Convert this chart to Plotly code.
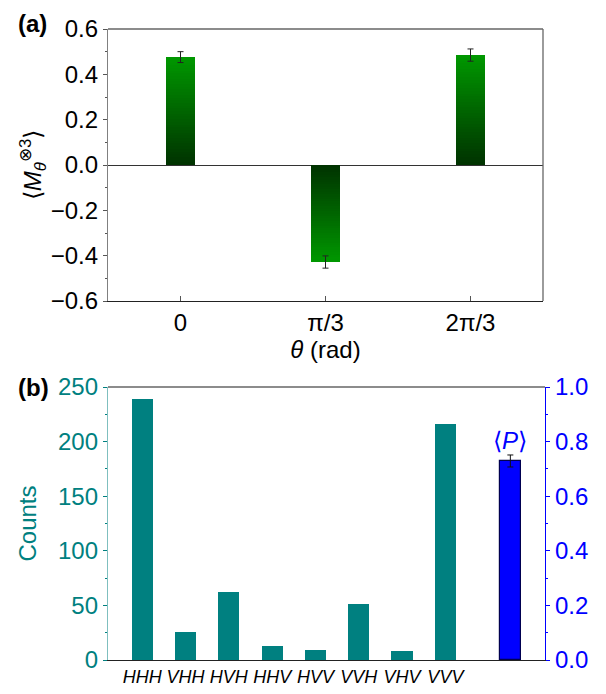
import plotly.graph_objects as go

# ---------------- data ----------------
theta_labels = ["0", "π/3", "2π/3"]
m_values = [0.476, -0.428, 0.485]
m_errors = [0.024, 0.027, 0.027]

states = ["HHH", "VHH", "HVH", "HHV", "HVV", "VVH", "VHV", "VVV"]
counts = [239, 26, 62, 13, 9, 51, 8, 216]
p_value = [0.729]
p_error = [0.022]

FONT = "Liberation Sans, Arial, Helvetica, sans-serif"
TEAL = "#008080"
BLUE = "#0000ff"
DARK = (0, 50, 0)
BRIGHT = (0, 152, 0)

# the page body has an 8px margin: figure sized to the visible area
W, H, OFF = 598, 686, 8


def px(x):
    return (x - OFF) / W


def py(y):
    return 1 - (y - OFF) / H


fig = go.Figure()

# ---------------- panel (a): gradient bars built from stacked slices ----------------
N = 40
xa = list(range(len(theta_labels)))
for k in range(N):
    t = (k + 0.5) / N
    col = "rgb(%d,%d,%d)" % tuple(round(DARK[i] + (BRIGHT[i] - DARK[i]) * t) for i in range(3))
    fig.add_trace(go.Bar(
        x=xa, y=[v / N for v in m_values], base=[v * k / N for v in m_values],
        width=0.205, marker=dict(color=col, line=dict(width=0)),
        xaxis="x", yaxis="y", showlegend=False, hoverinfo="skip"))

fig.add_trace(go.Scatter(
    x=xa, y=m_values, mode="markers", marker=dict(size=1, opacity=0),
    error_y=dict(type="data", array=m_errors, color="#222", thickness=1, width=3),
    xaxis="x", yaxis="y", showlegend=False))

# ---------------- panel (b) ----------------
xb = list(range(len(states)))
fig.add_trace(go.Bar(
    x=xb, y=counts, width=0.49, marker=dict(color=TEAL, line=dict(width=0)),
    xaxis="x2", yaxis="y2", showlegend=False))
p_pos = [len(states) + 0.5]
fig.add_trace(go.Bar(
    x=p_pos, y=p_value, width=0.47,
    marker=dict(color=BLUE, line=dict(color="#000050", width=1.2)),
    error_y=dict(type="data", array=p_error, color="#111", thickness=1, width=3),
    xaxis="x2", yaxis="y3", showlegend=False))

tick_font = dict(family=FONT, size=24, color="black")

fig.update_layout(
    template="none",
    width=W, height=H,
    margin=dict(l=0, r=0, t=0, b=0, pad=0),
    plot_bgcolor="white", paper_bgcolor="white",
    font=dict(family=FONT, size=24, color="black"),
    barmode="overlay",
    bargap=0,
    xaxis=dict(
        domain=[px(108), px(543)], anchor="y", automargin=False,
        range=[-0.5, 2.5], tickvals=xa, ticktext=theta_labels, tickangle=0,
        ticks="inside", ticklen=5, tickcolor="#555", tickwidth=1,
        showline=True, linecolor="#222", linewidth=1.3,
        showgrid=False, zeroline=False, tickfont=tick_font,
        title=dict(text="<i>θ</i> (rad)", font=dict(family=FONT, size=24), standoff=1),
    ),
    yaxis=dict(
        domain=[py(301), py(29)], anchor="x", automargin=False,
        range=[-0.6, 0.6], tickvals=[-0.6, -0.4, -0.2, 0.0, 0.2, 0.4, 0.6],
        tickformat=".1f", ticks="outside", ticklen=4, tickcolor="#555",
        minor=dict(dtick=0.1, ticks="outside", ticklen=2, tickcolor="#555"),
        showline=True, linecolor="#808080", linewidth=1.3,
        showgrid=False, zeroline=True, zerolinecolor="#333", zerolinewidth=1.3,
        tickfont=tick_font,
        title=dict(text="⟨<i>M</i><sub><i>θ</i></sub><sup>⊗3</sup>⟩",
                   font=dict(family=FONT, size=24), standoff=2),
    ),
    xaxis2=dict(
        domain=[px(108), px(545)], anchor="y2", automargin=False,
        range=[-0.79, 9.3], tickvals=xb, ticktext=["<i>%s</i>" % s for s in states],
        tickangle=0, ticks="", showline=True, linecolor="#222", linewidth=1.3,
        showgrid=False, zeroline=False,
        tickfont=dict(family=FONT, size=18, color="black"),
    ),
    yaxis2=dict(
        domain=[py(660), py(387)], anchor="x2", automargin=False,
        range=[0, 250], dtick=50, ticks="outside", ticklen=4, tickcolor=TEAL,
        minor=dict(dtick=25, ticks="outside", ticklen=2, tickcolor=TEAL),
        showline=True, linecolor="#7fbfbf", linewidth=1.3,
        showgrid=False, zeroline=False,
        tickfont=dict(family=FONT, size=24, color=TEAL),
        title=dict(text="Counts", font=dict(family=FONT, size=24, color=TEAL), standoff=14),
    ),
    yaxis3=dict(
        overlaying="y2", side="right", anchor="x2", automargin=False,
        range=[0, 1.0], dtick=0.2, tickformat=".1f",
        ticks="outside", ticklen=4, tickcolor=BLUE,
        minor=dict(dtick=0.1, ticks="outside", ticklen=2, tickcolor=BLUE),
        showline=True, linecolor=BLUE, linewidth=1.3,
        showgrid=False, zeroline=False,
        tickfont=dict(family=FONT, size=24, color=BLUE),
    ),
    shapes=[
        dict(type="line", xref="x domain", yref="y domain", x0=0, x1=1, y0=1, y1=1,
             line=dict(color="#666", width=1.3)),
        dict(type="line", xref="x domain", yref="y domain", x0=1, x1=1, y0=0, y1=1,
             line=dict(color="#666", width=1.3)),
        dict(type="line", xref="x2 domain", yref="y2 domain", x0=0, x1=1, y0=1, y1=1,
             line=dict(color="#666", width=1.3)),
    ],
    annotations=[
        dict(text="<b>(a)</b>", xref="paper", yref="paper", x=8 / W, y=1.0,
             xanchor="left", yanchor="top", showarrow=False,
             font=dict(family=FONT, size=24, color="black")),
        dict(text="<b>(b)</b>", xref="paper", yref="paper", x=8 / W, y=1 - 364 / H,
             xanchor="left", yanchor="top", showarrow=False,
             font=dict(family=FONT, size=24, color="black")),
        dict(text="⟨<i>P</i>⟩", xref="x2", yref="y3", x=p_pos[0], y=p_value[0] + 0.02,
             xanchor="center", yanchor="bottom", showarrow=False,
             font=dict(family=FONT, size=24, color=BLUE)),
    ],
)

fig.write_html("out.html")
